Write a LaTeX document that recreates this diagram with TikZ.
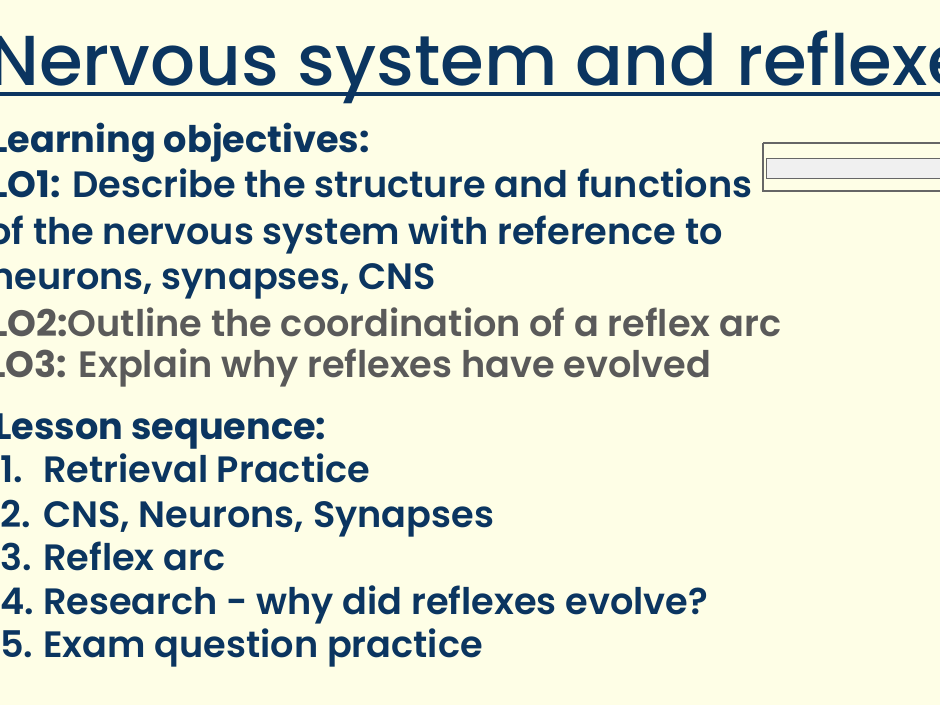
\documentclass[tikz,border=0pt]{standalone}
\usepackage{fontspec}
\setmainfont{Poppins}[UprightFont={* SemiBold},BoldFont={* Bold}]
\newfontfamily\titlefont{Poppins}[UprightFont={* Medium}]
\definecolor{bg}{HTML}{FEFEE6}
\definecolor{navy}{HTML}{0B3560}
\definecolor{grey}{HTML}{5A5A5A}
\begin{document}
\begin{tikzpicture}[x=0.75pt,y=-0.75pt,
  txt/.style={anchor=base west,inner sep=0pt,text=navy,font=\fontsize{27.5}{32}\selectfont},
  gtxt/.style={txt,text=grey}]
\useasboundingbox (0,0) rectangle (940,705);
\fill[bg] (0,0) rectangle (940,705);
\clip (0,0) rectangle (940,705);
\node[txt,font=\titlefont\fontsize{53}{60}\selectfont] (title) at (-12,86) {Nervous system and reflexes};
\draw[navy,line width=2.4pt] (0,94) -- (940,94);
\draw[gray!80!black,line width=0.8pt] (763,143) -- (945,143) (763,143) -- (763,191) -- (945,191);
\draw[gray!80!black,fill=gray!12,line width=0.6pt] (766,158) rectangle (945,178);
\node[txt,font=\fontsize{27.5}{32}\selectfont\bfseries] (lo) at (-10,153) {Learning objectives:};
\node[txt] (lo1) at (-10,198) {\textbf{LO1:} Describe the structure and functions};
\node[txt] (lo1b) at (-12,245) {of the nervous system with reference to};
\node[txt] (lo1c) at (-10,290) {neurons, synapses, CNS};
\node[gtxt] (lo2) at (-10,337) {\textbf{LO2:}Outline the coordination of a reflex arc};
\node[gtxt] (lo3) at (-12,378) {\textbf{LO3:} Explain why reflexes have evolved};
\node[txt,font=\fontsize{27.5}{32}\selectfont\bfseries] (ls) at (-6,440) {Lesson sequence:};
\foreach \n/\y/\t in {1/483/Retrieval Practice,2/528/{CNS, Neurons, Synapses},3/571/Reflex arc,4/615/Research - why did reflexes evolve?,5/658/Exam question practice}{
  \node[txt] (n\n) at (0,\y) {\n.};
  \node[txt] (s\n) at (43,\y) {\t};
}
\end{tikzpicture}
\end{document}
